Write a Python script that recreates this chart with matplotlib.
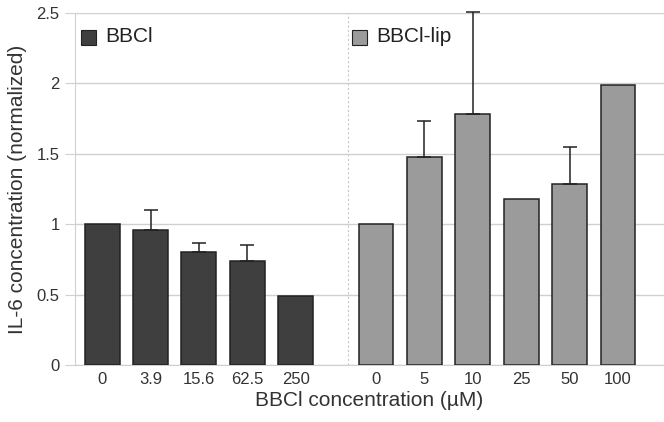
import numpy as np
import matplotlib
matplotlib.use("Agg")
import matplotlib.pyplot as plt
from matplotlib.patches import Rectangle

################################################################################

BBCL_LABELS = ["0", "3.9", "15.6", "62.5", "250"]
BBCL_VALUES = [1.0, 0.96, 0.80, 0.74, 0.49]
BBCL_ERR = [0.0, 0.14, 0.07, 0.115, 0.0]

LIP_LABELS = ["0", "5", "10", "25", "50", "100"]
LIP_VALUES = [1.0, 1.48, 1.78, 1.18, 1.285, 1.99]
LIP_ERR = [0.0, 0.25, 0.73, 0.0, 0.26, 0.0]

DARK = "#3f3f3f"
LIGHT = "#9b9b9b"
EDGE = "#222222"
GRID = "#d0d0d0"
TEXT = "#333333"

################################################################################


def main():
    plt.rcParams["font.family"] = ["Liberation Sans", "DejaVu Sans"]
    fig = plt.figure(figsize=(6.64, 4.22), dpi=100)
    ax = fig.add_axes([75 / 664, 57 / 422, 589 / 664, 352 / 422])

    x_left = np.arange(len(BBCL_VALUES))
    x_right = 5.66 + np.arange(len(LIP_VALUES))
    width = 0.72

    for x, vals, err, color in (
        (x_left, BBCL_VALUES, BBCL_ERR, DARK),
        (x_right, LIP_VALUES, LIP_ERR, LIGHT),
    ):
        ax.bar(x, vals, width=width, color=color, edgecolor=EDGE, linewidth=1.1, zorder=3)
        e = np.array(err)
        mask = e > 0
        ax.errorbar(
            x[mask], np.array(vals)[mask], yerr=[np.zeros(mask.sum()), e[mask]],
            fmt="none", ecolor=EDGE, elinewidth=1.1, capsize=5, capthick=1.1,
            zorder=4, clip_on=False,
        )

    ax.axvline(5.08, color="#c8c8c8", linestyle=(0, (2, 2)), linewidth=0.8, zorder=1)

    ax.set_xlim(-0.56, 11.61)
    ax.set_ylim(0, 2.5)
    ax.set_yticks([0, 0.5, 1, 1.5, 2, 2.5])
    ax.set_yticklabels(["0", "0.5", "1", "1.5", "2", "2.5"])
    ax.set_xticks(list(x_left) + list(x_right))
    ax.set_xticklabels(BBCL_LABELS + LIP_LABELS)
    ax.yaxis.grid(True, color=GRID, linewidth=1.0, zorder=0)
    ax.set_axisbelow(True)

    for side in ("top", "right"):
        ax.spines[side].set_visible(False)
    ax.spines["left"].set_color(GRID)
    ax.spines["bottom"].set_color(GRID)
    ax.tick_params(axis="y", length=7, color=GRID, labelsize=12, labelcolor=TEXT, pad=4)
    ax.tick_params(axis="x", length=0, labelsize=12, labelcolor=TEXT, pad=5)

    ax.set_xlabel("BBCl concentration (µM)", fontsize=15, color=TEXT, labelpad=3)
    ax.set_ylabel("IL-6 concentration (normalized)", fontsize=15, color=TEXT, labelpad=7)

    ##
    for x0, color, label in ((0.010, DARK, "BBCl"), (0.470, LIGHT, "BBCl-lip")):
        ax.add_patch(Rectangle(
            (x0, 0.910), 0.0255, 0.043, transform=ax.transAxes,
            facecolor=color, edgecolor=EDGE, linewidth=0.8, clip_on=False, zorder=5,
        ))
        ax.text(x0 + 0.041, 0.932, label, transform=ax.transAxes, fontsize=15,
                color="#222222", va="center", ha="left")

    fig.savefig("out.png", dpi=100)


################################################################################

main()
